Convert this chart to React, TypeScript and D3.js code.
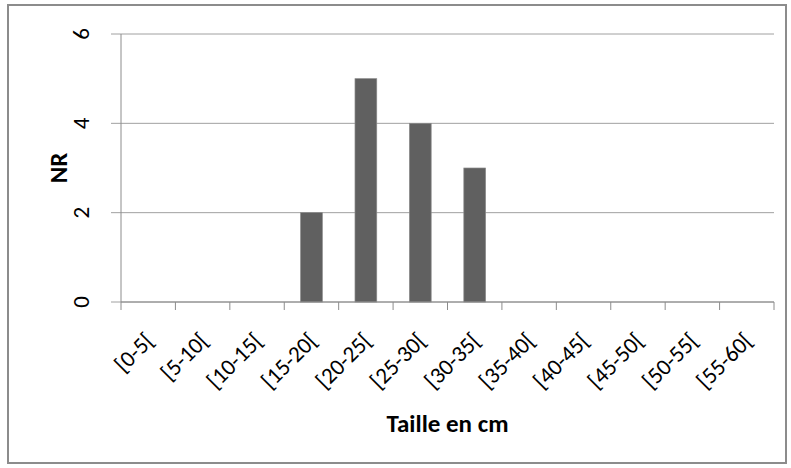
import React, { useRef, useEffect } from 'react';
import * as d3 from 'd3';

const categories: string[] = [
  '[0-5[', '[5-10[', '[10-15[', '[15-20[', '[20-25[', '[25-30[',
  '[30-35[', '[35-40[', '[40-45[', '[45-50[', '[50-55[', '[55-60[',
];
const counts: number[] = [0, 0, 0, 2, 5, 4, 3, 0, 0, 0, 0, 0];
const yTicks: number[] = [0, 2, 4, 6];

const font = 'Calibri, Carlito, "Open Sans", sans-serif';

const App: React.FC = () => {
  const svgRef = useRef<SVGSVGElement>(null);

  useEffect(() => {
    if (!svgRef.current) return;
    const svg = d3.select(svgRef.current);
    svg.selectAll('*').remove();

    const left = 121;
    const right = 774;
    const top = 34;
    const bottom = 302;

    svg.append('rect')
      .attr('x', 8).attr('y', 5)
      .attr('width', 778).attr('height', 458)
      .attr('fill', '#fff')
      .attr('stroke', '#8c8c8c')
      .attr('stroke-width', 2);

    const x = d3.scaleBand().domain(categories).range([left, right]).paddingInner(0).paddingOuter(0);
    const y = d3.scaleLinear().domain([0, 6]).range([bottom, top]);

    // gridlines + y ticks
    svg.append('g')
      .selectAll('line')
      .data(yTicks)
      .enter().append('line')
      .attr('x1', left - 10).attr('x2', right)
      .attr('y1', d => y(d)).attr('y2', d => y(d))
      .attr('stroke', '#a0a0a0')
      .attr('stroke-width', 1);

    svg.append('g')
      .selectAll('text')
      .data(yTicks)
      .enter().append('text')
      .attr('transform', d => `translate(89,${y(d)}) rotate(-90)`)
      .attr('text-anchor', 'middle')
      .attr('font-family', font)
      .attr('font-size', 23)
      .attr('fill', '#000')
      .text(d => d);

    // bars
    const bw = x.bandwidth() * 0.4;
    svg.append('g')
      .selectAll('rect')
      .data(counts.map((v, i) => ({ c: categories[i], v })).filter(d => d.v > 0))
      .enter().append('rect')
      .attr('x', d => (x(d.c) || 0) + (x.bandwidth() - bw) / 2)
      .attr('y', d => y(d.v))
      .attr('width', bw)
      .attr('height', d => bottom - y(d.v))
      .attr('fill', '#606060')
      .attr('stroke', '#8a8a8a')
      .attr('stroke-width', 0.7);

    // axes lines
    svg.append('line')
      .attr('x1', left).attr('x2', left).attr('y1', top).attr('y2', bottom)
      .attr('stroke', '#8c8c8c');
    svg.append('line')
      .attr('x1', left).attr('x2', right).attr('y1', bottom).attr('y2', bottom)
      .attr('stroke', '#8c8c8c');

    const xTickPos = categories.map(c => x(c) || 0).concat([right]);
    svg.append('g')
      .selectAll('line')
      .data(xTickPos)
      .enter().append('line')
      .attr('x1', d => d).attr('x2', d => d)
      .attr('y1', bottom).attr('y2', bottom + 8)
      .attr('stroke', '#8c8c8c');

    svg.append('g')
      .selectAll('text')
      .data(categories)
      .enter().append('text')
      .attr('transform', c => `translate(${(x(c) || 0) + x.bandwidth() / 2 + 7},${bottom + 40}) rotate(-45)`)
      .attr('text-anchor', 'end')
      .attr('font-family', font)
      .attr('font-size', 23)
      .attr('fill', '#000')
      .text(c => c);

    svg.append('text')
      .attr('transform', `translate(67,${(top + bottom) / 2}) rotate(-90)`)
      .attr('text-anchor', 'middle')
      .attr('font-family', font)
      .attr('font-size', 25)
      .attr('font-weight', 'bold')
      .text('NR');

    svg.append('text')
      .attr('x', (left + right) / 2)
      .attr('y', 432)
      .attr('text-anchor', 'middle')
      .attr('font-family', font)
      .attr('font-size', 25)
      .attr('font-weight', 'bold')
      .text('Taille en cm');
  }, []);

  return (
    <svg ref={svgRef} width="791" height="468" style={{ position: 'absolute', left: 0, top: 0 }}></svg>
  );
};

export default App;
